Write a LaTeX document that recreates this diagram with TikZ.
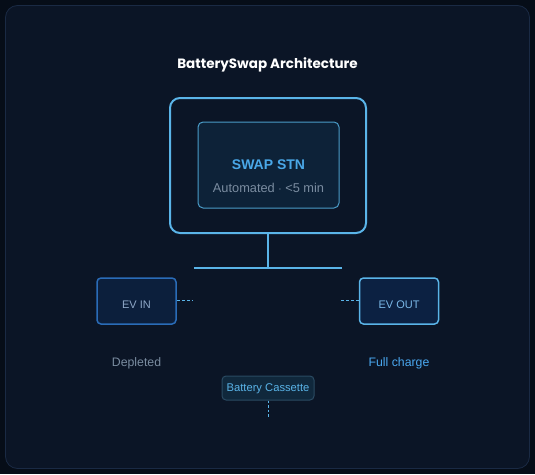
\documentclass[tikz,border=0pt]{standalone}
\usepackage{fontspec}
\setmainfont{Liberation Sans}
\newfontfamily\titlefont{Poppins}
\definecolor{bgouter}{HTML}{060D18}
\definecolor{panel}{HTML}{0B1526}
\definecolor{panelborder}{HTML}{1A2A44}
\definecolor{accent}{HTML}{5AB4E8}
\definecolor{innerfill}{HTML}{0D2238}
\definecolor{innerdraw}{HTML}{4A9CC8}
\definecolor{swapblue}{HTML}{4AA8E8}
\definecolor{mutedgray}{HTML}{7A8CA0}
\definecolor{evinfill}{HTML}{0C1F3C}
\definecolor{evindraw}{HTML}{2A6CB8}
\definecolor{evintext}{HTML}{8FA8C8}
\definecolor{evoutfill}{HTML}{0C2142}
\definecolor{evouttext}{HTML}{7AB8E8}
\definecolor{fullblue}{HTML}{4AA8F0}
\definecolor{cassfill}{HTML}{10283C}
\definecolor{cassdraw}{HTML}{2A4A62}
\begin{document}
\begin{tikzpicture}[x=1pt,y=-1pt,
  evbox/.style={rounded corners=4pt, line width=1.5pt, minimum width=79pt, minimum height=46pt, inner sep=0pt},
  evlabel/.style={font=\fontsize{11}{13}\selectfont, inner sep=0pt},
  dashlink/.style={accent, line width=1pt, dash pattern=on 3pt off 2pt},
  caption/.style={font=\fontsize{12.3}{14}\selectfont, inner sep=0pt}]
\useasboundingbox (0,0) rectangle (535,474);
\fill[bgouter] (0,0) rectangle (535,474);
\filldraw[fill=panel, draw=panelborder, line width=0.8pt, rounded corners=12pt] (5.5,5.5) rectangle (529.5,468.5);
\node[text=white, font=\titlefont\bfseries\fontsize{13.5}{16}\selectfont, inner sep=0pt] (title) at (267.5,64.5) {BatterySwap Architecture};
\node[draw=accent, fill=panel, line width=2pt, rounded corners=10pt, minimum width=196pt, minimum height=135pt, inner sep=0pt] (station) at (268,165.5) {};
\node[draw=innerdraw, fill=innerfill, line width=1pt, rounded corners=5pt, minimum width=141pt, minimum height=86pt, inner sep=0pt] (inner) at (268.5,165) {};
\node[text=swapblue, font=\bfseries\fontsize{14}{16}\selectfont, inner sep=0pt] (swap) at (268.5,164.5) {SWAP STN};
\node[text=mutedgray, font=\fontsize{12.8}{15}\selectfont, inner sep=0pt] (auto) at (268.5,187.5) {Automated $\cdot$ <5 min};
\coordinate (busmid) at (268,268);
\coordinate (busleft) at (194,268);
\coordinate (busright) at (342,268);
\draw[accent, line width=2pt] (station.south) -- (busmid);
\draw[accent, line width=2pt] (busleft) -- (busright);
\node[evbox, draw=evindraw, fill=evinfill] (evin) at (136.5,301) {};
\node[evlabel, text=evintext] (evinlbl) at (136.5,305) {EV IN};
\node[evbox, draw=accent, fill=evoutfill] (evout) at (399,301) {};
\node[evlabel, text=evouttext] (evoutlbl) at (399,305) {EV OUT};
\coordinate (inend) at (192,300);
\coordinate (outend) at (341,300);
\draw[dashlink] (evin.east |- inend) -- (inend);
\draw[dashlink] (outend) -- (evout.west |- outend);
\node[caption, text=mutedgray] (depl) at (136.5,363) {Depleted};
\node[caption, text=fullblue] (full) at (399,363) {Full charge};
\node[draw=cassdraw, fill=cassfill, line width=1pt, rounded corners=4pt, minimum width=92pt, minimum height=24pt, inner sep=0pt] (cass) at (268,388) {};
\node[text=accent, inner sep=0pt, font=\fontsize{11.2}{13}\selectfont] (casslbl) at (268,388.5) {Battery Cassette};
\coordinate (cassend) at (268,417);
\draw[accent, line width=1pt, dash pattern=on 2.5pt off 2pt] (cass.south) -- (cassend);
\end{tikzpicture}
\end{document}
